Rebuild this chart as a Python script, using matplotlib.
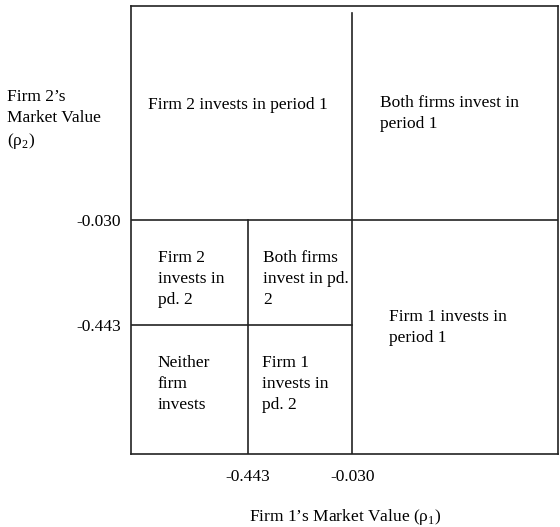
import matplotlib
matplotlib.use("Agg")
import matplotlib.pyplot as plt

plt.rcParams["font.family"] = ["Liberation Serif", "DejaVu Serif"]
plt.rcParams["mathtext.fontset"] = "custom"
plt.rcParams["mathtext.rm"] = "Liberation Serif"

# threshold values shown on both axes
thresholds = ["-0.443", "-0.030"]
# region descriptions
top_left = "Firm 2 invests in period 1"
top_right = "Both firms invest in\nperiod 1"
mid_left = "Firm 2\ninvests in\npd. 2"
mid_center = "Both firms\ninvest in pd.\n2"
bottom_right = "Firm 1 invests in\nperiod 1"
low_left = "Neither\nfirm\ninvests"
low_center = "Firm 1\ninvests in\npd. 2"
xlabel = "Firm 1\u2019s Market Value (\u03c1$_\\mathrm{1}$)"
ylabel = "Firm 2\u2019s\nMarket Value\n(\u03c1$_\\mathrm{2}$)"

# schematic boundary positions (axes fraction)
x_low, x_high = 0.274, 0.518
y_low, y_high = 0.288, 0.522

W, H = 560, 527
fig = plt.figure(figsize=(W / 100, H / 100), dpi=100)
ax = fig.add_axes([131 / W, (H - 454) / H, 427 / W, 448 / H])
ax.set_xlim(0, 1)
ax.set_ylim(0, 1)

lc = "#222222"
lw = 1.2
for s in ax.spines.values():
    s.set_color(lc)
    s.set_linewidth(lw)

# partition lines
ax.plot([x_high, x_high], [0, 0.985], color=lc, lw=lw)
ax.plot([0, 1], [y_high, y_high], color=lc, lw=lw)
ax.plot([x_low, x_low], [0, y_high], color=lc, lw=lw)
ax.plot([0, x_high], [y_low, y_low], color=lc, lw=lw)

fs = 12.5
ls = 1.42
ax.set_xticks([x_low, x_high])
ax.set_xticklabels(thresholds, fontsize=fs)
ax.set_yticks([y_high, y_low])
ax.set_yticklabels(thresholds[::-1], fontsize=fs)
ax.tick_params(axis="y", length=0, pad=7)
ax.tick_params(axis="x", length=0, pad=11)

kw = dict(fontsize=fs, ha="left", va="center", linespacing=ls)
ax.text(0.040, 0.779, top_left, **kw)
ax.text(0.583, 0.760, top_right, **kw)
ax.text(0.063, 0.390, mid_left, **kw)
ax.text(0.309, 0.390, mid_center, **kw)
ax.text(0.604, 0.282, bottom_right, **kw)
ax.text(0.063, 0.157, low_left, **kw)
ax.text(0.307, 0.157, low_center, **kw)

fig.text(7 / W, 1 - 120 / H, ylabel, fontsize=fs, ha="left", va="center", linespacing=ls)
fig.text(345 / W, 1 - 517 / H, xlabel, fontsize=fs, ha="center", va="center")

fig.savefig("out.png", dpi=100)
